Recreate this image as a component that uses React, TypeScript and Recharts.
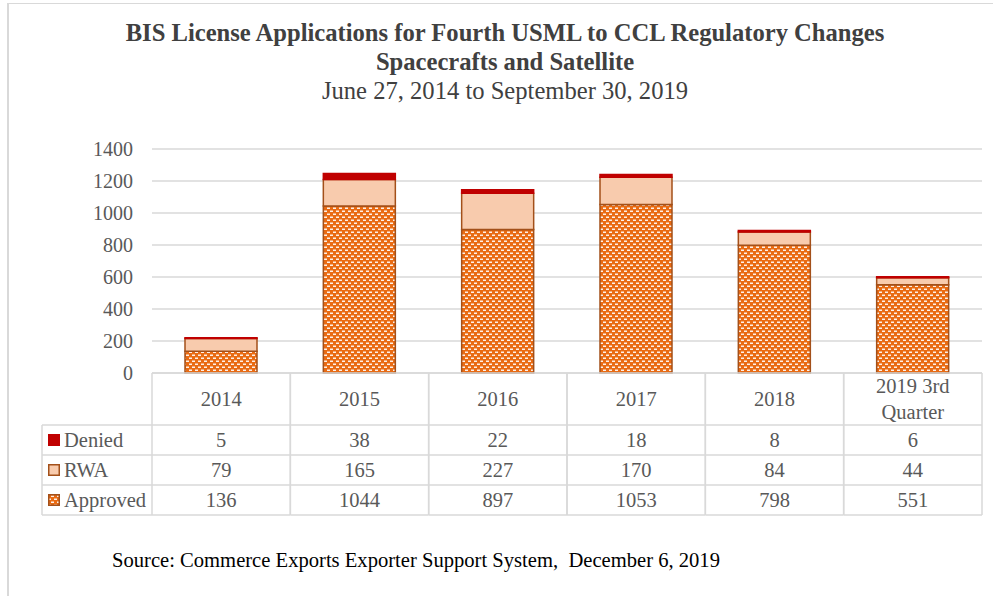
import { BarChart, Bar, XAxis, YAxis, CartesianGrid } from 'recharts'

const categories = ['2014', '2015', '2016', '2017', '2018', '2019 3rd Quarter']
const approved = [136, 1044, 897, 1053, 798, 551]
const rwa = [79, 165, 227, 170, 84, 44]
const denied = [5, 38, 22, 18, 8, 6]
const yTicks = [0, 200, 400, 600, 800, 1000, 1200, 1400]
const rowNames = ['Denied', 'RWA', 'Approved']

const data = categories.map((name, i) => ({
  name,
  approved: approved[i],
  rwa: rwa[i],
  denied: denied[i],
}))

const W = 993
const H = 596
const MARGIN = { top: 149, right: 11, bottom: 81, left: 92 }
const Y_AXIS_W = 60
const PLOT_W = W - MARGIN.left - Y_AXIS_W - MARGIN.right
const HEAD_H = 52
const ROW_H = 30
const TABLE_H = HEAD_H + ROW_H * 3
const LEGEND_LEFT = 42

const FONT = "'Liberation Serif', 'Times New Roman', serif"
const GRID = '#d9d9d9'
const TEXT = '#595959'
const ORANGE = '#e96b13'
const BROWN = '#a3501a'
const PEACH = '#f8cbad'
const RED = '#c00000'

function splitLabel(s: string) {
  if (s.length <= 8) return [s]
  const k = s.lastIndexOf(' ')
  return [s.slice(0, k), s.slice(k + 1)]
}

function Icon({ kind, x, y }: { kind: number; x: number; y: number }) {
  if (kind === 0) return <rect x={x} y={y} width={12} height={12} fill={RED} />
  if (kind === 1) return <rect x={x + 0.75} y={y + 0.75} width={10.5} height={10.5} fill={PEACH} stroke={BROWN} strokeWidth={1.5} />
  return <rect x={x + 0.75} y={y + 0.75} width={10.5} height={10.5} fill="url(#approvedPat)" stroke={BROWN} strokeWidth={1.5} />
}

function TableTick(props: any) {
  const { x, y, payload } = props
  const i: number = payload.index ?? props.index
  const colW = PLOT_W / categories.length
  const left = x - colW / 2
  const right = x + colW / 2
  const lines = splitLabel(String(payload.value))
  const vals = [denied[i], rwa[i], approved[i]]
  const rowY = [0, 1, 2, 3].map(r => y + HEAD_H + r * ROW_H)
  return (
    <g fontFamily={FONT} fontSize={20.5} fill={TEXT}>
      <line x1={left} x2={left} y1={y} y2={y + TABLE_H} stroke={GRID} strokeWidth={1.5} />
      <line x1={right} x2={right} y1={y} y2={y + TABLE_H} stroke={GRID} strokeWidth={1.5} />
      {rowY.map((ry, r) => (
        <line key={r} x1={left} x2={right} y1={ry} y2={ry} stroke={GRID} strokeWidth={1.5} />
      ))}
      {lines.map((t, k) => (
        <text key={k} x={x} y={y + HEAD_H / 2 + (k - (lines.length - 1) / 2) * 26} textAnchor="middle" dy="0.35em">
          {t}
        </text>
      ))}
      {vals.map((v, r) => (
        <text key={r} x={x} y={rowY[r] + ROW_H / 2} textAnchor="middle" dy="0.35em">
          {v}
        </text>
      ))}
      {i === 0 && (
        <g>
          <line x1={LEGEND_LEFT} x2={LEGEND_LEFT} y1={rowY[0]} y2={rowY[3]} stroke={GRID} strokeWidth={1.5} />
          {rowY.map((ry, r) => (
            <line key={r} x1={LEGEND_LEFT} x2={left} y1={ry} y2={ry} stroke={GRID} strokeWidth={1.5} />
          ))}
          {rowNames.map((n, r) => (
            <g key={n}>
              <Icon kind={r} x={LEGEND_LEFT + 6} y={rowY[r] + ROW_H / 2 - 6} />
              <text x={LEGEND_LEFT + 22} y={rowY[r] + ROW_H / 2} dy="0.35em">
                {n}
              </text>
            </g>
          ))}
        </g>
      )}
    </g>
  )
}

export default function App() {
  return (
    <div style={{ position: 'absolute', left: 0, top: 0, width: W, height: H, background: '#fff', overflow: 'hidden' }}>
      <svg width={0} height={0} style={{ position: 'absolute' }}>
        <defs>
          <pattern id="approvedPat" width={6} height={6} patternUnits="userSpaceOnUse">
            <rect width={6} height={6} fill={ORANGE} />
            <rect x={0} y={0.5} width={3} height={1.5} fill="#ffffff" opacity={0.9} />
            <rect x={3} y={3.5} width={3} height={1.5} fill="#ffffff" opacity={0.9} />
          </pattern>
        </defs>
      </svg>
      <div
        style={{
          position: 'absolute',
          left: 7,
          top: 3,
          width: W,
          height: H,
          borderTop: `1.5px solid ${GRID}`,
          borderLeft: `2px solid ${GRID}`,
        }}
      />
      <div
        style={{
          position: 'absolute',
          left: 0,
          width: W + 17,
          top: 18,
          textAlign: 'center',
          fontFamily: FONT,
          color: '#404040',
          fontSize: 24.6,
          lineHeight: '29px',
        }}
      >
        <div style={{ fontWeight: 'bold' }}>BIS License Applications for Fourth USML to CCL Regulatory Changes</div>
        <div style={{ fontWeight: 'bold' }}>Spacecrafts and Satellite</div>
        <div>June 27, 2014 to September 30, 2019</div>
      </div>
      <div style={{ position: 'absolute', left: 0, top: 0 }}>
        <BarChart width={W} height={H} data={data} margin={MARGIN} barSize={72}>
          <CartesianGrid vertical={false} stroke={GRID} strokeWidth={1.5} />
          <YAxis
            width={Y_AXIS_W}
            domain={[0, 1400]}
            ticks={yTicks}
            axisLine={false}
            tickLine={false}
            tickSize={0}
            tickMargin={19}
            tick={{ fontFamily: FONT, fontSize: 20, fill: TEXT }}
          />
          <XAxis
            dataKey="name"
            height={TABLE_H}
            interval={0}
            axisLine={{ stroke: GRID, strokeWidth: 1.5 }}
            tickLine={false}
            tickSize={0}
            tickMargin={0}
            tick={<TableTick />}
          />
          <Bar dataKey="approved" stackId="a" fill="url(#approvedPat)" stroke={BROWN} strokeWidth={1.5} isAnimationActive={false} />
          <Bar dataKey="rwa" stackId="a" fill={PEACH} stroke={BROWN} strokeWidth={1.5} isAnimationActive={false} />
          <Bar dataKey="denied" stackId="a" fill={RED} stroke={RED} strokeWidth={1.5} isAnimationActive={false} />
        </BarChart>
      </div>
      <div
        style={{
          position: 'absolute',
          left: 112,
          top: 549,
          fontFamily: FONT,
          fontSize: 20.6,
          color: '#000',
          whiteSpace: 'pre',
        }}
      >
        {'Source: Commerce Exports Exporter Support System,  December 6, 2019'}
      </div>
    </div>
  )
}
